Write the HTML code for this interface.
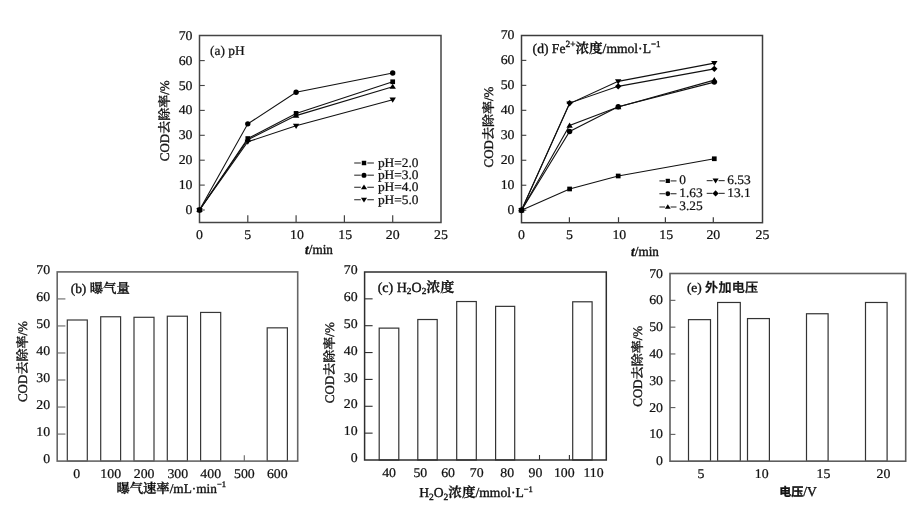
<!DOCTYPE html>
<html><head><meta charset="utf-8"><title>COD removal figure</title>
<style>
html,body{margin:0;padding:0;background:#fff;}
body{width:920px;height:520px;overflow:hidden;}
svg{display:block;will-change:transform;}
text{text-rendering:geometricPrecision;fill:#111;stroke:#111;stroke-width:0.35px;}
</style></head>
<body>
<svg width="920" height="520" viewBox="0 0 920 520">
<rect x="0" y="0" width="920" height="520" fill="#fff"/>
<rect x="199.5" y="35.5" width="241.5" height="187" fill="none" stroke="#444" stroke-width="1.5"/>
<line x1="199.5" y1="210" x2="204.75" y2="210" stroke="#444" stroke-width="1.1"/>
<text transform="translate(192.5,214) rotate(0) scale(0.6916,0.6650)" font-size="20" text-anchor="end" font-weight="normal" font-family="'Liberation Serif','Noto Serif CJK SC',serif" stroke-width="0.526" >0</text>
<line x1="199.5" y1="185.1" x2="204.75" y2="185.1" stroke="#444" stroke-width="1.1"/>
<text transform="translate(192.5,189.1) rotate(0) scale(0.6916,0.6650)" font-size="20" text-anchor="end" font-weight="normal" font-family="'Liberation Serif','Noto Serif CJK SC',serif" stroke-width="0.526" >10</text>
<line x1="199.5" y1="160.2" x2="204.75" y2="160.2" stroke="#444" stroke-width="1.1"/>
<text transform="translate(192.5,164.2) rotate(0) scale(0.6916,0.6650)" font-size="20" text-anchor="end" font-weight="normal" font-family="'Liberation Serif','Noto Serif CJK SC',serif" stroke-width="0.526" >20</text>
<line x1="199.5" y1="135.3" x2="204.75" y2="135.3" stroke="#444" stroke-width="1.1"/>
<text transform="translate(192.5,139.3) rotate(0) scale(0.6916,0.6650)" font-size="20" text-anchor="end" font-weight="normal" font-family="'Liberation Serif','Noto Serif CJK SC',serif" stroke-width="0.526" >30</text>
<line x1="199.5" y1="110.4" x2="204.75" y2="110.4" stroke="#444" stroke-width="1.1"/>
<text transform="translate(192.5,114.4) rotate(0) scale(0.6916,0.6650)" font-size="20" text-anchor="end" font-weight="normal" font-family="'Liberation Serif','Noto Serif CJK SC',serif" stroke-width="0.526" >40</text>
<line x1="199.5" y1="85.5" x2="204.75" y2="85.5" stroke="#444" stroke-width="1.1"/>
<text transform="translate(192.5,89.5) rotate(0) scale(0.6916,0.6650)" font-size="20" text-anchor="end" font-weight="normal" font-family="'Liberation Serif','Noto Serif CJK SC',serif" stroke-width="0.526" >50</text>
<line x1="199.5" y1="60.6" x2="204.75" y2="60.6" stroke="#444" stroke-width="1.1"/>
<text transform="translate(192.5,64.6) rotate(0) scale(0.6916,0.6650)" font-size="20" text-anchor="end" font-weight="normal" font-family="'Liberation Serif','Noto Serif CJK SC',serif" stroke-width="0.526" >60</text>
<text transform="translate(192.5,39.7) rotate(0) scale(0.6916,0.6650)" font-size="20" text-anchor="end" font-weight="normal" font-family="'Liberation Serif','Noto Serif CJK SC',serif" stroke-width="0.526" >70</text>
<text transform="translate(199.5,238.9) rotate(0) scale(0.6916,0.6650)" font-size="20" text-anchor="middle" font-weight="normal" font-family="'Liberation Serif','Noto Serif CJK SC',serif" stroke-width="0.526" >0</text>
<line x1="247.8" y1="222.5" x2="247.8" y2="215.25" stroke="#444" stroke-width="1.2"/>
<text transform="translate(247.8,238.9) rotate(0) scale(0.6916,0.6650)" font-size="20" text-anchor="middle" font-weight="normal" font-family="'Liberation Serif','Noto Serif CJK SC',serif" stroke-width="0.526" >5</text>
<line x1="296.1" y1="222.5" x2="296.1" y2="215.25" stroke="#444" stroke-width="1.2"/>
<text transform="translate(296.9,238.9) rotate(0) scale(0.6916,0.6650)" font-size="20" text-anchor="middle" font-weight="normal" font-family="'Liberation Serif','Noto Serif CJK SC',serif" stroke-width="0.526" >10</text>
<line x1="344.4" y1="222.5" x2="344.4" y2="215.25" stroke="#444" stroke-width="1.2"/>
<text transform="translate(345.2,238.9) rotate(0) scale(0.6916,0.6650)" font-size="20" text-anchor="middle" font-weight="normal" font-family="'Liberation Serif','Noto Serif CJK SC',serif" stroke-width="0.526" >15</text>
<line x1="392.7" y1="222.5" x2="392.7" y2="215.25" stroke="#444" stroke-width="1.2"/>
<text transform="translate(392.7,238.9) rotate(0) scale(0.6916,0.6650)" font-size="20" text-anchor="middle" font-weight="normal" font-family="'Liberation Serif','Noto Serif CJK SC',serif" stroke-width="0.526" >20</text>
<text transform="translate(441,238.9) rotate(0) scale(0.6916,0.6650)" font-size="20" text-anchor="middle" font-weight="normal" font-family="'Liberation Serif','Noto Serif CJK SC',serif" stroke-width="0.526" >25</text>
<polyline points="199.5,210 247.8,138.54 296.1,113.39 392.7,81.76" fill="none" stroke="#111" stroke-width="1.1"/>
<rect x="197.15" y="207.65" width="4.7" height="4.7" fill="#000"/>
<rect x="245.45" y="136.19" width="4.7" height="4.7" fill="#000"/>
<rect x="293.75" y="111.04" width="4.7" height="4.7" fill="#000"/>
<rect x="390.35" y="79.41" width="4.7" height="4.7" fill="#000"/>
<polyline points="199.5,210 247.8,123.85 296.1,92.22 392.7,73.05" fill="none" stroke="#111" stroke-width="1.1"/>
<circle cx="199.5" cy="210" r="2.7" fill="#000"/>
<circle cx="247.8" cy="123.85" r="2.7" fill="#000"/>
<circle cx="296.1" cy="92.22" r="2.7" fill="#000"/>
<circle cx="392.7" cy="73.05" r="2.7" fill="#000"/>
<polyline points="199.5,210 247.8,139.78 296.1,115.63 392.7,86.74" fill="none" stroke="#111" stroke-width="1.1"/>
<polygon points="199.5,206.96 196.3,212.08 202.7,212.08" fill="#000"/>
<polygon points="247.8,136.74 244.6,141.86 251,141.86" fill="#000"/>
<polygon points="296.1,112.59 292.9,117.71 299.3,117.71" fill="#000"/>
<polygon points="392.7,83.7 389.5,88.82 395.9,88.82" fill="#000"/>
<polyline points="199.5,210 247.8,141.77 296.1,125.84 392.7,99.69" fill="none" stroke="#111" stroke-width="1.1"/>
<polygon points="199.5,213.04 196.3,207.92 202.7,207.92" fill="#000"/>
<polygon points="247.8,144.81 244.6,139.69 251,139.69" fill="#000"/>
<polygon points="296.1,128.88 292.9,123.76 299.3,123.76" fill="#000"/>
<polygon points="392.7,102.73 389.5,97.61 395.9,97.61" fill="#000"/>
<text transform="translate(210,54.6) rotate(0) scale(0.6700,0.6700)" font-size="20" text-anchor="start" font-weight="normal" font-family="'Liberation Serif','Noto Serif CJK SC',serif" stroke-width="0.522" >(a) pH</text>
<line x1="354.2" y1="163" x2="360.8" y2="163" stroke="#444" stroke-width="1.2"/>
<line x1="367.3" y1="163" x2="373.9" y2="163" stroke="#444" stroke-width="1.2"/>
<rect x="361.77" y="160.77" width="4.46" height="4.46" fill="#000"/>
<text transform="translate(377.9,167) rotate(0) scale(0.6695,0.6500)" font-size="20" text-anchor="start" font-weight="normal" font-family="'Liberation Serif','Noto Serif CJK SC',serif" stroke-width="0.538" >pH=2.0</text>
<line x1="354.2" y1="175.2" x2="360.8" y2="175.2" stroke="#444" stroke-width="1.2"/>
<line x1="367.3" y1="175.2" x2="373.9" y2="175.2" stroke="#444" stroke-width="1.2"/>
<circle cx="364" cy="175.2" r="2.56" fill="#000"/>
<text transform="translate(377.9,179.2) rotate(0) scale(0.6695,0.6500)" font-size="20" text-anchor="start" font-weight="normal" font-family="'Liberation Serif','Noto Serif CJK SC',serif" stroke-width="0.538" >pH=3.0</text>
<line x1="354.2" y1="187.3" x2="360.8" y2="187.3" stroke="#444" stroke-width="1.2"/>
<line x1="367.3" y1="187.3" x2="373.9" y2="187.3" stroke="#444" stroke-width="1.2"/>
<polygon points="364,184.41 360.96,189.28 367.04,189.28" fill="#000"/>
<text transform="translate(377.9,191.3) rotate(0) scale(0.6695,0.6500)" font-size="20" text-anchor="start" font-weight="normal" font-family="'Liberation Serif','Noto Serif CJK SC',serif" stroke-width="0.538" >pH=4.0</text>
<line x1="354.2" y1="199.7" x2="360.8" y2="199.7" stroke="#444" stroke-width="1.2"/>
<line x1="367.3" y1="199.7" x2="373.9" y2="199.7" stroke="#444" stroke-width="1.2"/>
<polygon points="364,202.59 360.96,197.72 367.04,197.72" fill="#000"/>
<text transform="translate(377.9,203.7) rotate(0) scale(0.6695,0.6500)" font-size="20" text-anchor="start" font-weight="normal" font-family="'Liberation Serif','Noto Serif CJK SC',serif" stroke-width="0.538" >pH=5.0</text>
<text transform="translate(168.5,120.8) rotate(-90)" font-size="13" text-anchor="middle" font-family="'Liberation Serif','Noto Serif CJK SC',serif">COD<tspan font-weight="500">去除率</tspan>/%</text>
<text transform="translate(319,253.9) rotate(0) scale(0.9700,1)" font-size="13.6" text-anchor="middle" font-family="'Liberation Serif','Noto Serif CJK SC',serif"><tspan font-style="italic" font-weight="bold">t</tspan>/min</text>
<rect x="521.5" y="35.5" width="241" height="187.2" fill="none" stroke="#3c3c3c" stroke-width="1.5"/>
<line x1="521.5" y1="210.2" x2="526.3" y2="210.2" stroke="#3c3c3c" stroke-width="1.1"/>
<text transform="translate(514.5,214.2) rotate(0) scale(0.6916,0.6650)" font-size="20" text-anchor="end" font-weight="normal" font-family="'Liberation Serif','Noto Serif CJK SC',serif" stroke-width="0.526" >0</text>
<line x1="521.5" y1="185.23" x2="526.3" y2="185.23" stroke="#3c3c3c" stroke-width="1.1"/>
<text transform="translate(514.5,189.23) rotate(0) scale(0.6916,0.6650)" font-size="20" text-anchor="end" font-weight="normal" font-family="'Liberation Serif','Noto Serif CJK SC',serif" stroke-width="0.526" >10</text>
<line x1="521.5" y1="160.26" x2="526.3" y2="160.26" stroke="#3c3c3c" stroke-width="1.1"/>
<text transform="translate(514.5,164.26) rotate(0) scale(0.6916,0.6650)" font-size="20" text-anchor="end" font-weight="normal" font-family="'Liberation Serif','Noto Serif CJK SC',serif" stroke-width="0.526" >20</text>
<line x1="521.5" y1="135.29" x2="526.3" y2="135.29" stroke="#3c3c3c" stroke-width="1.1"/>
<text transform="translate(514.5,139.29) rotate(0) scale(0.6916,0.6650)" font-size="20" text-anchor="end" font-weight="normal" font-family="'Liberation Serif','Noto Serif CJK SC',serif" stroke-width="0.526" >30</text>
<line x1="521.5" y1="110.32" x2="526.3" y2="110.32" stroke="#3c3c3c" stroke-width="1.1"/>
<text transform="translate(514.5,114.32) rotate(0) scale(0.6916,0.6650)" font-size="20" text-anchor="end" font-weight="normal" font-family="'Liberation Serif','Noto Serif CJK SC',serif" stroke-width="0.526" >40</text>
<line x1="521.5" y1="85.35" x2="526.3" y2="85.35" stroke="#3c3c3c" stroke-width="1.1"/>
<text transform="translate(514.5,89.35) rotate(0) scale(0.6916,0.6650)" font-size="20" text-anchor="end" font-weight="normal" font-family="'Liberation Serif','Noto Serif CJK SC',serif" stroke-width="0.526" >50</text>
<line x1="521.5" y1="60.38" x2="526.3" y2="60.38" stroke="#3c3c3c" stroke-width="1.1"/>
<text transform="translate(514.5,64.38) rotate(0) scale(0.6916,0.6650)" font-size="20" text-anchor="end" font-weight="normal" font-family="'Liberation Serif','Noto Serif CJK SC',serif" stroke-width="0.526" >60</text>
<text transform="translate(514.5,39.41) rotate(0) scale(0.6916,0.6650)" font-size="20" text-anchor="end" font-weight="normal" font-family="'Liberation Serif','Noto Serif CJK SC',serif" stroke-width="0.526" >70</text>
<text transform="translate(521.5,239.1) rotate(0) scale(0.6916,0.6650)" font-size="20" text-anchor="middle" font-weight="normal" font-family="'Liberation Serif','Noto Serif CJK SC',serif" stroke-width="0.526" >0</text>
<line x1="569.4" y1="222.7" x2="569.4" y2="217.2" stroke="#3c3c3c" stroke-width="1.2"/>
<text transform="translate(569.4,239.1) rotate(0) scale(0.6916,0.6650)" font-size="20" text-anchor="middle" font-weight="normal" font-family="'Liberation Serif','Noto Serif CJK SC',serif" stroke-width="0.526" >5</text>
<line x1="618.5" y1="222.7" x2="618.5" y2="217.2" stroke="#3c3c3c" stroke-width="1.2"/>
<text transform="translate(619.3,239.1) rotate(0) scale(0.6916,0.6650)" font-size="20" text-anchor="middle" font-weight="normal" font-family="'Liberation Serif','Noto Serif CJK SC',serif" stroke-width="0.526" >10</text>
<line x1="665.4" y1="222.7" x2="665.4" y2="217.2" stroke="#3c3c3c" stroke-width="1.2"/>
<text transform="translate(666.2,239.1) rotate(0) scale(0.6916,0.6650)" font-size="20" text-anchor="middle" font-weight="normal" font-family="'Liberation Serif','Noto Serif CJK SC',serif" stroke-width="0.526" >15</text>
<line x1="713.3" y1="222.7" x2="713.3" y2="217.2" stroke="#3c3c3c" stroke-width="1.2"/>
<text transform="translate(713.3,239.1) rotate(0) scale(0.6916,0.6650)" font-size="20" text-anchor="middle" font-weight="normal" font-family="'Liberation Serif','Noto Serif CJK SC',serif" stroke-width="0.526" >20</text>
<text transform="translate(762.4,239.1) rotate(0) scale(0.6916,0.6650)" font-size="20" text-anchor="middle" font-weight="normal" font-family="'Liberation Serif','Noto Serif CJK SC',serif" stroke-width="0.526" >25</text>
<polyline points="521.5,210.2 569.6,188.98 618.2,175.99 714.3,158.76" fill="none" stroke="#111" stroke-width="1.1"/>
<rect x="519.15" y="207.85" width="4.7" height="4.7" fill="#000"/>
<rect x="567.25" y="186.63" width="4.7" height="4.7" fill="#000"/>
<rect x="615.85" y="173.64" width="4.7" height="4.7" fill="#000"/>
<rect x="711.95" y="156.41" width="4.7" height="4.7" fill="#000"/>
<polyline points="521.5,210.2 569.6,125.55 618.2,107.07 714.3,80.11" fill="none" stroke="#111" stroke-width="1.1"/>
<polygon points="521.5,207.16 518.3,212.28 524.7,212.28" fill="#000"/>
<polygon points="569.6,122.51 566.4,127.63 572.8,127.63" fill="#000"/>
<polygon points="618.2,104.03 615,109.15 621.4,109.15" fill="#000"/>
<polygon points="714.3,77.07 711.1,82.19 717.5,82.19" fill="#000"/>
<polyline points="521.5,210.2 569.6,131.54 618.2,106.82 714.3,82.1" fill="none" stroke="#111" stroke-width="1.1"/>
<circle cx="521.5" cy="210.2" r="2.7" fill="#000"/>
<circle cx="569.6" cy="131.54" r="2.7" fill="#000"/>
<circle cx="618.2" cy="106.82" r="2.7" fill="#000"/>
<circle cx="714.3" cy="82.1" r="2.7" fill="#000"/>
<polyline points="521.5,210.2 569.6,103.58 618.2,81.35 714.3,63.13" fill="none" stroke="#111" stroke-width="1.1"/>
<polygon points="521.5,213.24 518.3,208.12 524.7,208.12" fill="#000"/>
<polygon points="569.6,106.62 566.4,101.5 572.8,101.5" fill="#000"/>
<polygon points="618.2,84.39 615,79.27 621.4,79.27" fill="#000"/>
<polygon points="714.3,66.17 711.1,61.05 717.5,61.05" fill="#000"/>
<polyline points="521.5,210.2 569.6,103.08 618.2,86.35 714.3,68.87" fill="none" stroke="#111" stroke-width="1.1"/>
<polygon points="521.5,207 524.7,210.2 521.5,213.4 518.3,210.2" fill="#000"/>
<polygon points="569.6,99.88 572.8,103.08 569.6,106.28 566.4,103.08" fill="#000"/>
<polygon points="618.2,83.15 621.4,86.35 618.2,89.55 615,86.35" fill="#000"/>
<polygon points="714.3,65.67 717.5,68.87 714.3,72.07 711.1,68.87" fill="#000"/>
<text transform="translate(532.6,52.5) rotate(0)" font-size="13.6" text-anchor="start" font-family="'Liberation Serif','Noto Serif CJK SC',serif">(d) Fe<tspan dy="-5.2" font-size="9.4">2+</tspan><tspan dy="5.2" font-weight="600">浓度</tspan>/mmol·L<tspan dy="-5.2" font-size="9">−1</tspan></text>
<line x1="659.4" y1="180.9" x2="665" y2="180.9" stroke="#444" stroke-width="1.2"/>
<line x1="670.6" y1="180.9" x2="676.5" y2="180.9" stroke="#444" stroke-width="1.2"/>
<rect x="665.68" y="178.78" width="4.23" height="4.23" fill="#000"/>
<text transform="translate(679.3,184) rotate(0) scale(0.6695,0.6500)" font-size="20" text-anchor="start" font-weight="normal" font-family="'Liberation Serif','Noto Serif CJK SC',serif" stroke-width="0.538" >0</text>
<line x1="659.4" y1="193.7" x2="665" y2="193.7" stroke="#444" stroke-width="1.2"/>
<line x1="670.6" y1="193.7" x2="676.5" y2="193.7" stroke="#444" stroke-width="1.2"/>
<circle cx="667.8" cy="193.7" r="2.43" fill="#000"/>
<text transform="translate(679.3,196.8) rotate(0) scale(0.6695,0.6500)" font-size="20" text-anchor="start" font-weight="normal" font-family="'Liberation Serif','Noto Serif CJK SC',serif" stroke-width="0.538" >1.63</text>
<line x1="659.4" y1="207" x2="665" y2="207" stroke="#444" stroke-width="1.2"/>
<line x1="670.6" y1="207" x2="676.5" y2="207" stroke="#444" stroke-width="1.2"/>
<polygon points="667.8,204.26 664.92,208.87 670.68,208.87" fill="#000"/>
<text transform="translate(679.3,210.1) rotate(0) scale(0.6695,0.6500)" font-size="20" text-anchor="start" font-weight="normal" font-family="'Liberation Serif','Noto Serif CJK SC',serif" stroke-width="0.538" >3.25</text>
<line x1="706.7" y1="180.6" x2="712.6" y2="180.6" stroke="#444" stroke-width="1.2"/>
<line x1="718.6" y1="180.6" x2="724.7" y2="180.6" stroke="#444" stroke-width="1.2"/>
<polygon points="715.6,183.49 712.56,178.62 718.64,178.62" fill="#000"/>
<text transform="translate(727.2,183.7) rotate(0) scale(0.6695,0.6500)" font-size="20" text-anchor="start" font-weight="normal" font-family="'Liberation Serif','Noto Serif CJK SC',serif" stroke-width="0.538" >6.53</text>
<line x1="706.7" y1="193.4" x2="712.6" y2="193.4" stroke="#444" stroke-width="1.2"/>
<line x1="718.6" y1="193.4" x2="724.7" y2="193.4" stroke="#444" stroke-width="1.2"/>
<polygon points="715.6,190.36 718.64,193.4 715.6,196.44 712.56,193.4" fill="#000"/>
<text transform="translate(727.2,196.5) rotate(0) scale(0.6695,0.6500)" font-size="20" text-anchor="start" font-weight="normal" font-family="'Liberation Serif','Noto Serif CJK SC',serif" stroke-width="0.538" >13.1</text>
<text transform="translate(492.5,127) rotate(-90)" font-size="13" text-anchor="middle" font-family="'Liberation Serif','Noto Serif CJK SC',serif">COD<tspan font-weight="500">去除率</tspan>/%</text>
<text transform="translate(645,255.9) rotate(0) scale(0.9700,1)" font-size="13.6" text-anchor="middle" font-family="'Liberation Serif','Noto Serif CJK SC',serif"><tspan font-style="italic" font-weight="bold">t</tspan>/min</text>
<text transform="translate(50.2,463.3) rotate(0) scale(0.6916,0.6650)" font-size="20" text-anchor="end" font-weight="normal" font-family="'Liberation Serif','Noto Serif CJK SC',serif" stroke-width="0.526" >0</text>
<line x1="57.2" y1="434.07" x2="65.4" y2="434.07" stroke="#666" stroke-width="1.1"/>
<text transform="translate(50.2,436.27) rotate(0) scale(0.6916,0.6650)" font-size="20" text-anchor="end" font-weight="normal" font-family="'Liberation Serif','Noto Serif CJK SC',serif" stroke-width="0.526" >10</text>
<line x1="57.2" y1="407.04" x2="65.4" y2="407.04" stroke="#666" stroke-width="1.1"/>
<text transform="translate(50.2,409.24) rotate(0) scale(0.6916,0.6650)" font-size="20" text-anchor="end" font-weight="normal" font-family="'Liberation Serif','Noto Serif CJK SC',serif" stroke-width="0.526" >20</text>
<line x1="57.2" y1="380.01" x2="65.4" y2="380.01" stroke="#666" stroke-width="1.1"/>
<text transform="translate(50.2,382.21) rotate(0) scale(0.6916,0.6650)" font-size="20" text-anchor="end" font-weight="normal" font-family="'Liberation Serif','Noto Serif CJK SC',serif" stroke-width="0.526" >30</text>
<line x1="57.2" y1="352.98" x2="65.4" y2="352.98" stroke="#666" stroke-width="1.1"/>
<text transform="translate(50.2,355.18) rotate(0) scale(0.6916,0.6650)" font-size="20" text-anchor="end" font-weight="normal" font-family="'Liberation Serif','Noto Serif CJK SC',serif" stroke-width="0.526" >40</text>
<line x1="57.2" y1="325.95" x2="65.4" y2="325.95" stroke="#666" stroke-width="1.1"/>
<text transform="translate(50.2,328.15) rotate(0) scale(0.6916,0.6650)" font-size="20" text-anchor="end" font-weight="normal" font-family="'Liberation Serif','Noto Serif CJK SC',serif" stroke-width="0.526" >50</text>
<line x1="57.2" y1="298.92" x2="65.4" y2="298.92" stroke="#666" stroke-width="1.1"/>
<text transform="translate(50.2,301.12) rotate(0) scale(0.6916,0.6650)" font-size="20" text-anchor="end" font-weight="normal" font-family="'Liberation Serif','Noto Serif CJK SC',serif" stroke-width="0.526" >60</text>
<text transform="translate(50.2,274.09) rotate(0) scale(0.6916,0.6650)" font-size="20" text-anchor="end" font-weight="normal" font-family="'Liberation Serif','Noto Serif CJK SC',serif" stroke-width="0.526" >70</text>
<rect x="67.3" y="320" width="20" height="141.1" fill="#fff" stroke="#383838" stroke-width="1.2"/>
<rect x="100.7" y="316.76" width="19.9" height="144.34" fill="#fff" stroke="#383838" stroke-width="1.2"/>
<rect x="134" y="317.3" width="20" height="143.8" fill="#fff" stroke="#383838" stroke-width="1.2"/>
<rect x="167.3" y="316.22" width="20.1" height="144.88" fill="#fff" stroke="#383838" stroke-width="1.2"/>
<rect x="200.6" y="312.44" width="20.1" height="148.66" fill="#fff" stroke="#383838" stroke-width="1.2"/>
<rect x="267.2" y="327.84" width="20.2" height="133.26" fill="#fff" stroke="#383838" stroke-width="1.2"/>
<line x1="244.3" y1="461.1" x2="244.3" y2="455.35" stroke="#666" stroke-width="1.1"/>
<rect x="57.2" y="271.9" width="240.5" height="189.2" fill="none" stroke="#666" stroke-width="1.6"/>
<text transform="translate(76.7,478.1) rotate(0) scale(0.6916,0.6650)" font-size="20" text-anchor="middle" font-weight="normal" font-family="'Liberation Serif','Noto Serif CJK SC',serif" stroke-width="0.526" >0</text>
<text transform="translate(110.7,478.1) rotate(0) scale(0.6916,0.6650)" font-size="20" text-anchor="middle" font-weight="normal" font-family="'Liberation Serif','Noto Serif CJK SC',serif" stroke-width="0.526" >100</text>
<text transform="translate(144.1,478.1) rotate(0) scale(0.6916,0.6650)" font-size="20" text-anchor="middle" font-weight="normal" font-family="'Liberation Serif','Noto Serif CJK SC',serif" stroke-width="0.526" >200</text>
<text transform="translate(177.8,478.1) rotate(0) scale(0.6916,0.6650)" font-size="20" text-anchor="middle" font-weight="normal" font-family="'Liberation Serif','Noto Serif CJK SC',serif" stroke-width="0.526" >300</text>
<text transform="translate(210.7,478.1) rotate(0) scale(0.6916,0.6650)" font-size="20" text-anchor="middle" font-weight="normal" font-family="'Liberation Serif','Noto Serif CJK SC',serif" stroke-width="0.526" >400</text>
<text transform="translate(244.4,478.1) rotate(0) scale(0.6916,0.6650)" font-size="20" text-anchor="middle" font-weight="normal" font-family="'Liberation Serif','Noto Serif CJK SC',serif" stroke-width="0.526" >500</text>
<text transform="translate(277.3,478.1) rotate(0) scale(0.6916,0.6650)" font-size="20" text-anchor="middle" font-weight="normal" font-family="'Liberation Serif','Noto Serif CJK SC',serif" stroke-width="0.526" >600</text>
<text transform="translate(70.7,292.8) rotate(0)" font-size="13.4" text-anchor="start" font-family="'Liberation Serif','Noto Serif CJK SC',serif">(b) <tspan font-weight="500">曝气量</tspan></text>
<text transform="translate(27.3,361.6) rotate(-90)" font-size="13" text-anchor="middle" font-family="'Liberation Serif','Noto Serif CJK SC',serif">COD<tspan font-weight="500">去除率</tspan>/%</text>
<text transform="translate(171.2,492.6) rotate(0)" font-size="13.3" text-anchor="middle" font-family="'Liberation Serif','Noto Serif CJK SC',serif"><tspan font-weight="600">曝气速率</tspan>/mL·min<tspan dy="-5.5" font-size="8.5">−1</tspan></text>
<text transform="translate(357.6,462.2) rotate(0) scale(0.6916,0.6650)" font-size="20" text-anchor="end" font-weight="normal" font-family="'Liberation Serif','Noto Serif CJK SC',serif" stroke-width="0.526" >0</text>
<line x1="364.6" y1="433.14" x2="372.6" y2="433.14" stroke="#2e2e2e" stroke-width="1.1"/>
<text transform="translate(357.6,435.34) rotate(0) scale(0.6916,0.6650)" font-size="20" text-anchor="end" font-weight="normal" font-family="'Liberation Serif','Noto Serif CJK SC',serif" stroke-width="0.526" >10</text>
<line x1="364.6" y1="406.28" x2="372.6" y2="406.28" stroke="#2e2e2e" stroke-width="1.1"/>
<text transform="translate(357.6,408.48) rotate(0) scale(0.6916,0.6650)" font-size="20" text-anchor="end" font-weight="normal" font-family="'Liberation Serif','Noto Serif CJK SC',serif" stroke-width="0.526" >20</text>
<line x1="364.6" y1="379.42" x2="372.6" y2="379.42" stroke="#2e2e2e" stroke-width="1.1"/>
<text transform="translate(357.6,381.62) rotate(0) scale(0.6916,0.6650)" font-size="20" text-anchor="end" font-weight="normal" font-family="'Liberation Serif','Noto Serif CJK SC',serif" stroke-width="0.526" >30</text>
<line x1="364.6" y1="352.56" x2="372.6" y2="352.56" stroke="#2e2e2e" stroke-width="1.1"/>
<text transform="translate(357.6,354.76) rotate(0) scale(0.6916,0.6650)" font-size="20" text-anchor="end" font-weight="normal" font-family="'Liberation Serif','Noto Serif CJK SC',serif" stroke-width="0.526" >40</text>
<line x1="364.6" y1="325.7" x2="372.6" y2="325.7" stroke="#2e2e2e" stroke-width="1.1"/>
<text transform="translate(357.6,327.9) rotate(0) scale(0.6916,0.6650)" font-size="20" text-anchor="end" font-weight="normal" font-family="'Liberation Serif','Noto Serif CJK SC',serif" stroke-width="0.526" >50</text>
<line x1="364.6" y1="298.84" x2="372.6" y2="298.84" stroke="#2e2e2e" stroke-width="1.1"/>
<text transform="translate(357.6,301.04) rotate(0) scale(0.6916,0.6650)" font-size="20" text-anchor="end" font-weight="normal" font-family="'Liberation Serif','Noto Serif CJK SC',serif" stroke-width="0.526" >60</text>
<text transform="translate(357.6,274.18) rotate(0) scale(0.6916,0.6650)" font-size="20" text-anchor="end" font-weight="normal" font-family="'Liberation Serif','Noto Serif CJK SC',serif" stroke-width="0.526" >70</text>
<rect x="379.2" y="328.12" width="19.6" height="131.88" fill="#fff" stroke="#333" stroke-width="1.2"/>
<rect x="417.8" y="319.52" width="19.4" height="140.48" fill="#fff" stroke="#333" stroke-width="1.2"/>
<rect x="456.7" y="301.53" width="19.6" height="158.47" fill="#fff" stroke="#333" stroke-width="1.2"/>
<rect x="495.6" y="306.36" width="19.1" height="153.64" fill="#fff" stroke="#333" stroke-width="1.2"/>
<rect x="572.7" y="301.79" width="19.4" height="158.21" fill="#fff" stroke="#333" stroke-width="1.2"/>
<line x1="539.5" y1="460" x2="539.5" y2="455" stroke="#2e2e2e" stroke-width="1.1"/>
<line x1="569.4" y1="460" x2="569.4" y2="455" stroke="#2e2e2e" stroke-width="1.1"/>
<rect x="364.6" y="272" width="241.7" height="188" fill="none" stroke="#2e2e2e" stroke-width="1.5"/>
<text transform="translate(389.1,477) rotate(0) scale(0.6916,0.6650)" font-size="20" text-anchor="middle" font-weight="normal" font-family="'Liberation Serif','Noto Serif CJK SC',serif" stroke-width="0.526" >40</text>
<text transform="translate(420.3,477) rotate(0) scale(0.6916,0.6650)" font-size="20" text-anchor="middle" font-weight="normal" font-family="'Liberation Serif','Noto Serif CJK SC',serif" stroke-width="0.526" >50</text>
<text transform="translate(448.1,477) rotate(0) scale(0.6916,0.6650)" font-size="20" text-anchor="middle" font-weight="normal" font-family="'Liberation Serif','Noto Serif CJK SC',serif" stroke-width="0.526" >60</text>
<text transform="translate(476.7,477) rotate(0) scale(0.6916,0.6650)" font-size="20" text-anchor="middle" font-weight="normal" font-family="'Liberation Serif','Noto Serif CJK SC',serif" stroke-width="0.526" >70</text>
<text transform="translate(507.2,477) rotate(0) scale(0.6916,0.6650)" font-size="20" text-anchor="middle" font-weight="normal" font-family="'Liberation Serif','Noto Serif CJK SC',serif" stroke-width="0.526" >80</text>
<text transform="translate(535.5,477) rotate(0) scale(0.6916,0.6650)" font-size="20" text-anchor="middle" font-weight="normal" font-family="'Liberation Serif','Noto Serif CJK SC',serif" stroke-width="0.526" >90</text>
<text transform="translate(564.3,477) rotate(0) scale(0.6916,0.6650)" font-size="20" text-anchor="middle" font-weight="normal" font-family="'Liberation Serif','Noto Serif CJK SC',serif" stroke-width="0.526" >100</text>
<text transform="translate(593.5,477) rotate(0) scale(0.6916,0.6650)" font-size="20" text-anchor="middle" font-weight="normal" font-family="'Liberation Serif','Noto Serif CJK SC',serif" stroke-width="0.526" >110</text>
<text transform="translate(377.7,291.5) rotate(0)" font-size="14" text-anchor="start" font-family="'Liberation Serif','Noto Serif CJK SC',serif">(c) H<tspan dy="2.2" font-size="9.3">2</tspan><tspan dy="-2.2">O</tspan><tspan dy="2.2" font-size="9.3">2</tspan><tspan dy="-2.2" font-weight="600">浓度</tspan></text>
<text transform="translate(333.8,362.7) rotate(-90)" font-size="13" text-anchor="middle" font-family="'Liberation Serif','Noto Serif CJK SC',serif">COD<tspan font-weight="500">去除率</tspan>/%</text>
<text transform="translate(476,497) rotate(0)" font-size="13.6" text-anchor="middle" font-family="'Liberation Serif','Noto Serif CJK SC',serif">H<tspan dy="2.5" font-size="9.5">2</tspan><tspan dy="-2.5">O</tspan><tspan dy="2.5" font-size="9.5">2</tspan><tspan dy="-2.5" font-weight="600">浓度</tspan>/mmol·L<tspan dy="-5.5" font-size="8.5">−1</tspan></text>
<text transform="translate(663,465.2) rotate(0) scale(0.6916,0.6650)" font-size="20" text-anchor="end" font-weight="normal" font-family="'Liberation Serif','Noto Serif CJK SC',serif" stroke-width="0.526" >0</text>
<line x1="670" y1="434.39" x2="675.4" y2="434.39" stroke="#5e5e5e" stroke-width="1.1"/>
<text transform="translate(663,438.39) rotate(0) scale(0.6916,0.6650)" font-size="20" text-anchor="end" font-weight="normal" font-family="'Liberation Serif','Noto Serif CJK SC',serif" stroke-width="0.526" >10</text>
<line x1="670" y1="407.58" x2="675.4" y2="407.58" stroke="#5e5e5e" stroke-width="1.1"/>
<text transform="translate(663,411.58) rotate(0) scale(0.6916,0.6650)" font-size="20" text-anchor="end" font-weight="normal" font-family="'Liberation Serif','Noto Serif CJK SC',serif" stroke-width="0.526" >20</text>
<line x1="670" y1="380.77" x2="675.4" y2="380.77" stroke="#5e5e5e" stroke-width="1.1"/>
<text transform="translate(663,384.77) rotate(0) scale(0.6916,0.6650)" font-size="20" text-anchor="end" font-weight="normal" font-family="'Liberation Serif','Noto Serif CJK SC',serif" stroke-width="0.526" >30</text>
<line x1="670" y1="353.96" x2="675.4" y2="353.96" stroke="#5e5e5e" stroke-width="1.1"/>
<text transform="translate(663,357.96) rotate(0) scale(0.6916,0.6650)" font-size="20" text-anchor="end" font-weight="normal" font-family="'Liberation Serif','Noto Serif CJK SC',serif" stroke-width="0.526" >40</text>
<line x1="670" y1="327.15" x2="675.4" y2="327.15" stroke="#5e5e5e" stroke-width="1.1"/>
<text transform="translate(663,331.15) rotate(0) scale(0.6916,0.6650)" font-size="20" text-anchor="end" font-weight="normal" font-family="'Liberation Serif','Noto Serif CJK SC',serif" stroke-width="0.526" >50</text>
<line x1="670" y1="300.34" x2="675.4" y2="300.34" stroke="#5e5e5e" stroke-width="1.1"/>
<text transform="translate(663,304.34) rotate(0) scale(0.6916,0.6650)" font-size="20" text-anchor="end" font-weight="normal" font-family="'Liberation Serif','Noto Serif CJK SC',serif" stroke-width="0.526" >60</text>
<text transform="translate(663,277.53) rotate(0) scale(0.6916,0.6650)" font-size="20" text-anchor="end" font-weight="normal" font-family="'Liberation Serif','Noto Serif CJK SC',serif" stroke-width="0.526" >70</text>
<rect x="688.5" y="319.64" width="22" height="141.56" fill="#fff" stroke="#333" stroke-width="1.2"/>
<rect x="717.6" y="302.48" width="22.7" height="158.72" fill="#fff" stroke="#333" stroke-width="1.2"/>
<rect x="747.5" y="318.57" width="21.9" height="142.63" fill="#fff" stroke="#333" stroke-width="1.2"/>
<rect x="806.5" y="313.75" width="21.6" height="147.45" fill="#fff" stroke="#333" stroke-width="1.2"/>
<rect x="865.5" y="302.48" width="21.6" height="158.72" fill="#fff" stroke="#333" stroke-width="1.2"/>
<rect x="670" y="273.5" width="235.7" height="187.7" fill="none" stroke="#5e5e5e" stroke-width="1.6"/>
<text transform="translate(700.9,478.2) rotate(0) scale(0.6916,0.6650)" font-size="20" text-anchor="middle" font-weight="normal" font-family="'Liberation Serif','Noto Serif CJK SC',serif" stroke-width="0.526" >5</text>
<text transform="translate(761.7,478.2) rotate(0) scale(0.6916,0.6650)" font-size="20" text-anchor="middle" font-weight="normal" font-family="'Liberation Serif','Noto Serif CJK SC',serif" stroke-width="0.526" >10</text>
<text transform="translate(823.5,478.2) rotate(0) scale(0.6916,0.6650)" font-size="20" text-anchor="middle" font-weight="normal" font-family="'Liberation Serif','Noto Serif CJK SC',serif" stroke-width="0.526" >15</text>
<text transform="translate(883.5,478.2) rotate(0) scale(0.6916,0.6650)" font-size="20" text-anchor="middle" font-weight="normal" font-family="'Liberation Serif','Noto Serif CJK SC',serif" stroke-width="0.526" >20</text>
<text transform="translate(686.9,292) rotate(0)" font-size="13.4" text-anchor="start" font-family="'Liberation Serif','Noto Serif CJK SC',serif">(e) <tspan font-family="'Liberation Sans','Noto Sans CJK SC',sans-serif" font-weight="500" font-size="13" letter-spacing="0.3">外加电压</tspan></text>
<text transform="translate(642,366.3) rotate(-90)" font-size="13" text-anchor="middle" font-family="'Liberation Serif','Noto Serif CJK SC',serif">COD<tspan font-weight="500">去除率</tspan>/%</text>
<text transform="translate(798,495.6) rotate(0)" font-size="13.6" text-anchor="middle" font-family="'Liberation Serif','Noto Serif CJK SC',serif"><tspan font-family="'Liberation Sans','Noto Sans CJK SC',sans-serif" font-weight="700" font-size="12">电压</tspan>/V</text>
</svg>
</body></html>
